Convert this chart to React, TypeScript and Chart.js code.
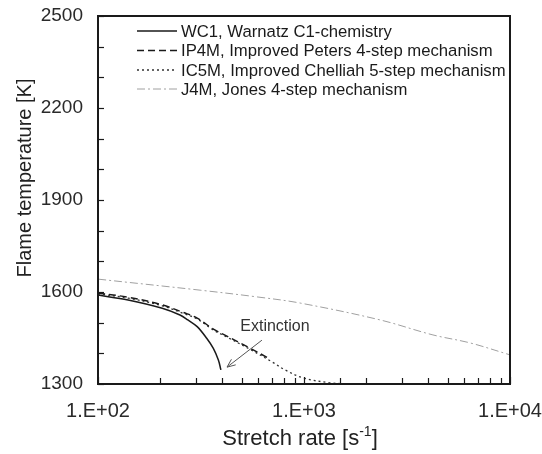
import React, { useEffect, useRef } from "react";
import { Chart, registerables } from "chart.js";
Chart.register(...registerables);

// ---- data ----
const seriesLabels = [
  "WC1, Warnatz C1-chemistry",
  "IP4M, Improved Peters 4-step mechanism",
  "IC5M, Improved Chelliah 5-step mechanism",
  "J4M, Jones 4-step mechanism",
];

const wc1Rate = [100, 140, 205, 250, 273, 303, 337, 363, 384, 395];
const wc1Temp = [1590, 1574, 1547, 1525, 1509, 1487, 1449, 1416, 1378, 1346];

const ip4mRate = [100, 140, 205, 260, 303, 363, 420, 547, 668];
const ip4mTemp = [1596, 1583, 1558, 1533, 1515, 1479, 1457, 1417, 1385];

const ic5mRate = [100, 140, 205, 260, 303, 363, 420, 547, 700, 809, 989, 1337, 1730];
const ic5mTemp = [1594, 1580, 1555, 1530, 1512, 1476, 1454, 1413, 1372, 1346, 1320, 1304, 1300];

const j4mRate = [100, 313, 592, 957, 2339, 4227, 6400, 10000];
const j4mTemp = [1642, 1606, 1584, 1564, 1509, 1460, 1434, 1395];

const yMajorTicks = [1300, 1600, 1900, 2200, 2500];
const yMinorStep = 100;
const xMajorTicks = [100, 1000, 10000];

const annotationText = "Extinction";
const annotationTextAt = [723, 1486];
const arrowFrom = [625, 1443];
const arrowTo = [423, 1355];

const toPoints = (xs: number[], ys: number[]) => xs.map((x, i) => ({ x, y: ys[i] }));

const FONT = "Arial, 'Liberation Sans', Helvetica, sans-serif";

const decorPlugin = {
  id: "decor",
  afterDraw(chart: any) {
    const { ctx, chartArea } = chart;
    const xs = chart.scales.x;
    const ys = chart.scales.y;
    const { left, right, top, bottom } = chartArea;
    ctx.save();

    // frame
    ctx.strokeStyle = "#1a1a1a";
    ctx.lineWidth = 2;
    ctx.setLineDash([]);
    ctx.strokeRect(left, top, right - left, bottom - top);

    // x ticks (inward)
    ctx.lineWidth = 1.2;
    xs.ticks.forEach((t: any) => {
      const px = Math.round(xs.getPixelForValue(t.value)) + 0.5;
      const major = xMajorTicks.includes(t.value);
      ctx.beginPath();
      ctx.moveTo(px, bottom);
      ctx.lineTo(px, bottom - (major ? 7 : 6));
      ctx.stroke();
    });
    // y ticks (inward)
    const yMin = yMajorTicks[0];
    const yMax = yMajorTicks[yMajorTicks.length - 1];
    for (let v = yMin; v <= yMax; v += yMinorStep) {
      const py = Math.round(ys.getPixelForValue(v)) + 0.5;
      ctx.beginPath();
      ctx.moveTo(left, py);
      ctx.lineTo(left + 6, py);
      ctx.stroke();
    }

    // legend
    const lx0 = 137, lx1 = 177, tx = 181;
    const rowY = [31, 50.5, 70, 89];
    ctx.font = `16.7px ${FONT}`;
    ctx.textBaseline = "middle";
    ctx.textAlign = "left";
    chart.data.datasets.forEach((ds: any, i: number) => {
      ctx.strokeStyle = ds.borderColor;
      ctx.lineWidth = ds.borderWidth;
      ctx.setLineDash(ds.borderDash || []);
      ctx.beginPath();
      ctx.moveTo(lx0, rowY[i]);
      ctx.lineTo(lx1, rowY[i]);
      ctx.stroke();
      ctx.fillStyle = "#1a1a1a";
      ctx.fillText(ds.label, tx, rowY[i] + 1);
    });
    ctx.setLineDash([]);

    // annotation
    ctx.fillStyle = "#333";
    ctx.textAlign = "center";
    ctx.font = `16px ${FONT}`;
    ctx.fillText(annotationText, xs.getPixelForValue(annotationTextAt[0]), ys.getPixelForValue(annotationTextAt[1]));
    const ax0 = xs.getPixelForValue(arrowFrom[0]);
    const ay0 = ys.getPixelForValue(arrowFrom[1]);
    const ax1 = xs.getPixelForValue(arrowTo[0]);
    const ay1 = ys.getPixelForValue(arrowTo[1]);
    ctx.strokeStyle = "#555";
    ctx.lineWidth = 1;
    ctx.beginPath();
    ctx.moveTo(ax0, ay0);
    ctx.lineTo(ax1, ay1);
    ctx.stroke();
    const ang = Math.atan2(ay1 - ay0, ax1 - ax0);
    const hl = 9;
    ctx.beginPath();
    ctx.moveTo(ax1 - hl * Math.cos(ang - 0.4), ay1 - hl * Math.sin(ang - 0.4));
    ctx.lineTo(ax1, ay1);
    ctx.lineTo(ax1 - hl * Math.cos(ang + 0.4), ay1 - hl * Math.sin(ang + 0.4));
    ctx.stroke();

    // x title with superscript
    ctx.fillStyle = "#222";
    ctx.textAlign = "left";
    ctx.textBaseline = "alphabetic";
    const main = "Stretch rate [s";
    const sup = "-1";
    const close = "]";
    ctx.font = `22px ${FONT}`;
    const wMain = ctx.measureText(main).width;
    const wClose = ctx.measureText(close).width;
    ctx.font = `14px ${FONT}`;
    const wSup = ctx.measureText(sup).width;
    const total = wMain + wSup + wClose;
    const cx = 300;
    const base = 445;
    let x = cx - total / 2;
    ctx.font = `22px ${FONT}`;
    ctx.fillText(main, x, base);
    x += wMain;
    ctx.font = `14px ${FONT}`;
    ctx.fillText(sup, x, base - 9);
    x += wSup;
    ctx.font = `22px ${FONT}`;
    ctx.fillText(close, x, base);

    // y title
    ctx.save();
    ctx.translate(25, 178);
    ctx.rotate(-Math.PI / 2);
    ctx.textAlign = "center";
    ctx.textBaseline = "middle";
    ctx.font = `20px ${FONT}`;
    ctx.fillText("Flame temperature [K]", 0, 0);
    ctx.restore();

    ctx.restore();
  },
};

export default function App() {
  const ref = useRef<HTMLCanvasElement | null>(null);
  useEffect(() => {
    if (!ref.current) return;
    const chart = new Chart(ref.current, {
      type: "scatter",
      data: {
        datasets: [
          {
            label: seriesLabels[0],
            data: toPoints(wc1Rate, wc1Temp),
            borderColor: "#1a1a1a",
            borderWidth: 1.5,
            borderDash: [],
            showLine: true,
            pointRadius: 0,
            tension: 0.35,
          },
          {
            label: seriesLabels[1],
            data: toPoints(ip4mRate, ip4mTemp),
            borderColor: "#1a1a1a",
            borderWidth: 1.5,
            borderDash: [7, 4],
            showLine: true,
            pointRadius: 0,
            tension: 0.35,
          },
          {
            label: seriesLabels[2],
            data: toPoints(ic5mRate, ic5mTemp),
            borderColor: "#333",
            borderWidth: 1.3,
            borderDash: [2, 3],
            showLine: true,
            pointRadius: 0,
            tension: 0.35,
          },
          {
            label: seriesLabels[3],
            data: toPoints(j4mRate, j4mTemp),
            borderColor: "#a0a0a0",
            borderWidth: 1,
            borderDash: [8, 3, 2, 3],
            showLine: true,
            pointRadius: 0,
            tension: 0.35,
          },
        ],
      },
      options: {
        animation: false,
        responsive: true,
        maintainAspectRatio: false,
        layout: { padding: { top: 16, right: 32, left: 0, bottom: 0 } },
        plugins: { legend: { display: false }, tooltip: { enabled: false } },
        scales: {
          x: {
            type: "logarithmic",
            min: xMajorTicks[0],
            max: xMajorTicks[xMajorTicks.length - 1],
            grid: { display: false, drawTicks: false },
            border: { display: false },
            afterFit: (s: any) => {
              s.height = 70;
              s.paddingLeft = 0;
              s.paddingRight = 0;
            },
            ticks: {
              autoSkip: false,
              maxRotation: 0,
              padding: 15,
              color: "#2a2a2a",
              font: { size: 20, family: FONT },
              callback: (v: any) => {
                const n = Number(v);
                if (!xMajorTicks.includes(n)) return "";
                return "1.E+" + String(Math.round(Math.log10(n))).padStart(2, "0");
              },
            },
          },
          y: {
            type: "linear",
            min: yMajorTicks[0],
            max: yMajorTicks[yMajorTicks.length - 1],
            grid: { display: false, drawTicks: false },
            border: { display: false },
            afterFit: (s: any) => {
              s.width = 98;
              s.paddingTop = 0;
              s.paddingBottom = 0;
            },
            afterBuildTicks: (s: any) => { s.ticks = yMajorTicks.map((v) => ({ value: v })); },
            ticks: {
              padding: 15,
              color: "#2a2a2a",
              font: { size: 19, family: FONT },
              callback: (v: any) => String(v),
            },
          },
        },
      },
      plugins: [decorPlugin],
    });
    return () => chart.destroy();
  }, []);
  return (
    <div style={{ position: "absolute", left: 0, top: 0, width: 542, height: 454, background: "#fff" }}>
      <canvas ref={ref} />
    </div>
  );
}
